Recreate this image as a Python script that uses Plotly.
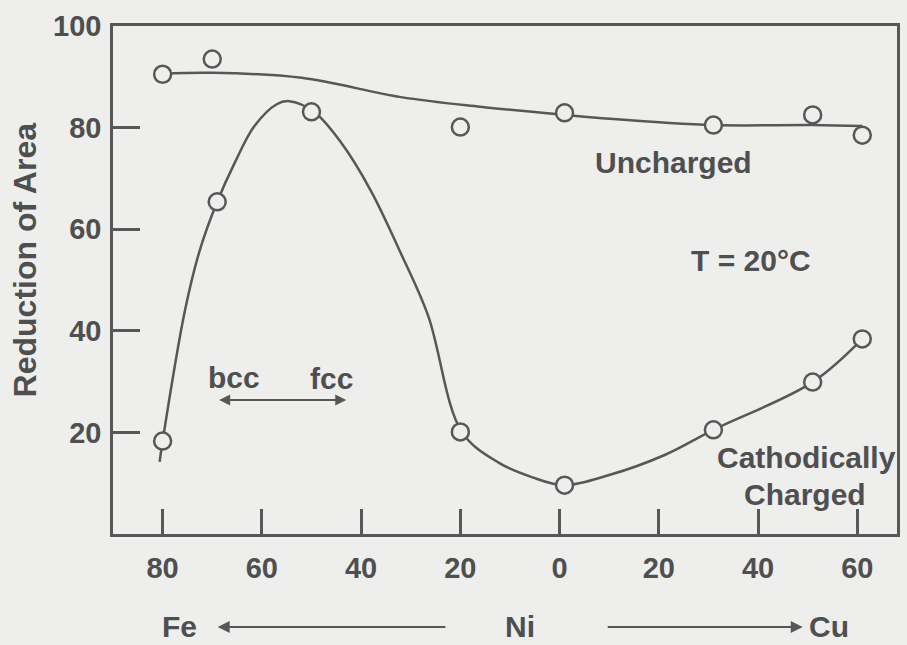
import plotly.graph_objects as go

# Composition axis: negative = at.% Fe side, positive = at.% Cu side, 0 = pure Ni
tick_vals = [-80, -60, -40, -20, 0, 20, 40, 60]
tick_text = ["80", "60", "40", "20", "0", "20", "40", "60"]
y_tick_vals = [20, 40, 60, 80, 100]
y_tick_text = ["20", "40", "60", "80", "100"]

# Measured reduction of area (%)
uncharged_x = [-80, -70, -20, 1, 31, 51, 61]
uncharged_y = [90.5, 93.5, 80.1, 82.9, 80.5, 82.5, 78.5]
charged_x = [-80, -69, -50, -20, 1, 31, 51, 61]
charged_y = [18.3, 65.4, 83.1, 20.1, 9.6, 20.5, 29.9, 38.4]

# Hand-drawn trend curves
uncharged_curve_x = [-80, -70, -52, -32, -16, 1, 8, 31, 51, 61]
uncharged_curve_y = [90.6, 90.8, 89.8, 86.0, 84.1, 82.5, 81.9, 80.5, 80.5, 80.3]
charged_curve_x = [-80.6, -80, -75.5, -72.5, -69, -65.5, -61.5, -57, -54.5, -49.5, -44,
                   -38, -32.3, -26.5, -19.7, -12.2, -5.6, 0.8, 10, 21.3, 31, 51, 61]
charged_curve_y = [14.2, 18.3, 44.0, 55.9, 65.4, 73.0, 80.3, 84.6, 85.2, 83.1, 77.0,
                   67.5, 55.9, 43.0, 20.1, 14.0, 11.2, 9.6, 11.6, 15.6, 20.5, 29.9, 38.4]

INK = "#4f4f4f"
LINE = "#575757"
BG = "#eeeeec"
FONT = "Liberation Sans"

fig = go.Figure()
fig.add_trace(go.Scatter(x=uncharged_curve_x, y=uncharged_curve_y, mode="lines",
                         line=dict(color=LINE, width=2.5, shape="spline", smoothing=1.0),
                         hoverinfo="skip", showlegend=False))
fig.add_trace(go.Scatter(x=charged_curve_x, y=charged_curve_y, mode="lines",
                         line=dict(color=LINE, width=2.5, shape="spline", smoothing=1.0),
                         hoverinfo="skip", showlegend=False))
marker = dict(symbol="circle", size=17, color=BG, line=dict(color=LINE, width=2.5))
fig.add_trace(go.Scatter(x=uncharged_x, y=uncharged_y, mode="markers", name="Uncharged",
                         marker=marker, showlegend=False))
fig.add_trace(go.Scatter(x=charged_x, y=charged_y, mode="markers", name="Cathodically Charged",
                         marker=marker, showlegend=False))

txt = dict(family=FONT, size=30, color=INK, weight="bold")
labels = [
    ("Uncharged", 22.9, 73.2),
    ("T = 20°C", 38.6, 53.9),
    ("Cathodically", 49.8, 15.0),
    ("Charged", 49.4, 7.7),
    ("bcc", -65.7, 30.9),
    ("fcc", -46.0, 30.7),
]
for t, x, y in labels:
    fig.add_annotation(x=x, y=y, xref="x", yref="y", text=t, showarrow=False,
                       font=txt, xanchor="center", yanchor="middle")

# bcc <-> fcc double arrow
fig.add_annotation(x=-43.0, y=26.4, ax=-68.9, ay=26.4, xref="x", yref="y",
                   axref="x", ayref="y", text="", showarrow=True,
                   arrowside="end+start", arrowhead=2, arrowsize=1.1,
                   arrowwidth=2, arrowcolor=LINE)

# Composition direction row under the axis
row_y = -0.183
for t, x in [("Fe", -76.5), ("Ni", -8.0), ("Cu", 54.2)]:
    fig.add_annotation(x=x, y=row_y, xref="x", yref="paper", text=t, showarrow=False,
                       font=txt, xanchor="center", yanchor="middle")
fig.add_annotation(x=-68.9, y=row_y, ax=-22.7, ay=0, xref="x", yref="paper",
                   axref="x", ayref="pixel", text="", showarrow=True,
                   arrowhead=2, arrowsize=1.2, arrowwidth=2, arrowcolor=LINE)
fig.add_annotation(x=49.0, y=row_y, ax=9.4, ay=0, xref="x", yref="paper",
                   axref="x", ayref="pixel", text="", showarrow=True,
                   arrowhead=2, arrowsize=1.2, arrowwidth=2, arrowcolor=LINE)

# Y axis title
fig.add_annotation(x=-0.112, y=0.539, xref="paper", yref="paper",
                   text="Reduction of Area", textangle=-90, showarrow=False,
                   font=dict(family=FONT, size=32, color=INK, weight="bold"),
                   xanchor="center", yanchor="middle")

axis_common = dict(showgrid=False, zeroline=False, showline=True, linecolor=LINE,
                   linewidth=2.5, mirror=True, ticks="inside", tickcolor=LINE,
                   tickwidth=2.5, tickfont=dict(family=FONT, size=29, color=INK, weight="bold"))
fig.update_xaxes(range=[-90, 68], tickmode="array", tickvals=tick_vals, ticktext=tick_text,
                 ticklen=25, ticklabelstandoff=6, **axis_common)
fig.update_yaxes(range=[0, 100], tickmode="array", tickvals=y_tick_vals, ticktext=y_tick_text,
                 ticklen=27, ticklabelstandoff=3, **axis_common)

fig.update_layout(width=907, height=645, margin=dict(l=113, r=7, t=26, b=111),
                  paper_bgcolor=BG, plot_bgcolor=BG, showlegend=False)

fig.write_html("out.html")
